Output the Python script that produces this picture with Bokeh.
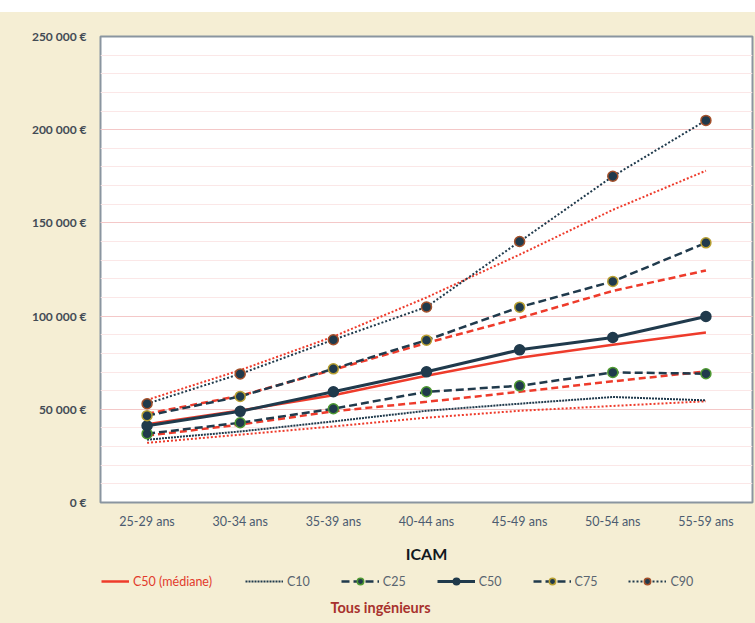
from bokeh.plotting import figure
from bokeh.models import FactorRange, Range1d, SingleIntervalTicker, Legend, LegendItem, Label, Spacer
from bokeh.layouts import column
from bokeh.embed import file_html
from bokeh.resources import INLINE

categories = ["25-29 ans", "30-34 ans", "35-39 ans", "40-44 ans", "45-49 ans", "50-54 ans", "55-59 ans"]

# ICAM percentiles
c10 = [33700, 38100, 43500, 49200, 53000, 56600, 54800]
c25 = [36900, 42800, 50300, 59400, 62600, 69800, 69100]
c50 = [41200, 48900, 59400, 70100, 81900, 88500, 99800]
c75 = [46600, 56900, 71700, 87100, 104800, 118600, 139300]
c90 = [53000, 69000, 87300, 104900, 140000, 175000, 205000]

# Tous ingénieurs (reference, red)
ref_c10 = [32000, 36400, 40800, 45500, 49200, 51800, 54300]
ref_c25 = [35900, 41800, 48900, 54000, 59400, 65000, 70300]
ref_c50 = [42000, 49300, 57500, 68000, 77600, 84600, 91200]
ref_c75 = [47600, 57300, 71200, 85600, 99000, 113500, 124500]
ref_c90 = [55000, 71000, 89000, 110000, 133000, 157000, 178000]

y_ticks = [0, 50000, 100000, 150000, 200000, 250000]
y_tick_labels = ["0 €", "50 000 €", "100 000 €", "150 000 €", "200 000 €", "250 000 €"]

BEIGE = "#f5eed4"
NAVY = "#203a4c"
RED = "#ee3b2b"
FONT = "Lato"

# style of each series: (name, values, width, dash, marker outline or None)
icam_series = [
    ("C10", c10, 2, "2 1", None),
    ("C25", c25, 2.5, "8 4", "#4f9a32"),
    ("C50", c50, 3, "solid", NAVY),
    ("C75", c75, 2.5, "8 4", "#b8a032"),
    ("C90", c90, 2, "2 2", "#a4502a"),
]
ref_series = [
    (ref_c10, 2, "2 2"),
    (ref_c25, 2.5, "7 4"),
    (ref_c50, 2.5, "solid"),
    (ref_c75, 2.5, "7 4"),
    (ref_c90, 2, "2 2"),
]

p = figure(width=755, height=553, x_range=FactorRange(*categories, range_padding=0),
           y_range=Range1d(0, 250000), output_backend="svg", toolbar_location=None,
           min_border_left=100, min_border_right=3, min_border_top=24, min_border_bottom=62)
p.border_fill_color = BEIGE
p.background_fill_color = "white"
p.outline_line_color = "#8a95a0"
p.outline_line_width = 2

p.yaxis.ticker = SingleIntervalTicker(interval=50000, num_minor_ticks=5)
p.yaxis.major_label_overrides = {t: l for t, l in zip(y_ticks, y_tick_labels)}
p.ygrid.grid_line_color = "#f4c8c8"
p.ygrid.minor_grid_line_color = "#fbe7e7"
p.xgrid.grid_line_color = None

for ax in (p.xaxis, p.yaxis):
    ax.axis_line_color = None
    ax.major_tick_line_color = None
    ax.minor_tick_line_color = None
    ax.major_tick_out = 0
    ax.major_tick_in = 0
    ax.major_label_text_font = FONT

p.yaxis.major_label_text_font_size = "12px"
p.yaxis.major_label_text_font_style = "bold"
p.yaxis.major_label_text_color = "#434b55"
p.yaxis.major_label_standoff = 10
p.xaxis.major_label_text_font_size = "12.5px"
p.xaxis.major_label_text_color = "#4b5b70"
p.xaxis.major_label_standoff = 11
p.xaxis.axis_label = "ICAM"
p.xaxis.axis_label_text_font = FONT
p.xaxis.axis_label_text_font_size = "16px"
p.xaxis.axis_label_text_font_style = "bold"
p.xaxis.axis_label_text_color = "#111820"
p.xaxis.axis_label_standoff = 12

for vals, w, dash in ref_series:
    p.line(categories, vals, line_color=RED, line_width=w, line_dash=dash)
for name, vals, w, dash, oc in icam_series:
    p.line(categories, vals, line_color=NAVY, line_width=w, line_dash=dash)
    if oc is not None:
        p.scatter(categories, vals, size=10, fill_color=NAVY, line_color=oc, line_width=1.5)

# bottom strip: legend + subtitle (data sits outside its y range, only legend glyphs show)
p2 = figure(width=755, height=58, x_range=FactorRange(*categories, range_padding=0),
            y_range=Range1d(0, 1), output_backend="svg", toolbar_location=None,
            x_axis_location=None, y_axis_location=None,
            min_border_left=0, min_border_right=0, min_border_top=0, min_border_bottom=0)
p2.border_fill_alpha = 0
p2.background_fill_alpha = 0
p2.outline_line_color = None
p2.grid.visible = False

rr = p2.line(categories, ref_c50, line_color=RED, line_width=2.5)
items = []
for name, vals, w, dash, oc in icam_series:
    rends = [p2.line(categories, vals, line_color=NAVY, line_width=w, line_dash=dash)]
    if oc is not None:
        rends.append(p2.scatter(categories, vals, size=10, fill_color=NAVY, line_color=oc, line_width=1.5))
    items.append(LegendItem(label=name, renderers=rends))

def mk_legend(its, loc, color, gw=38):
    return Legend(items=its, location=loc, orientation="horizontal", glyph_width=gw,
                  glyph_height=16, label_standoff=4, spacing=31, padding=0, margin=0,
                  background_fill_alpha=0, border_line_color=None, label_text_font=FONT,
                  label_text_font_size="12.5px", label_text_color=color, label_height=16)

# the strip's frame is aligned with the chart's frame (left edge at x=100)
p2.add_layout(mk_legend([LegendItem(label="C50 (médiane)", renderers=[rr])], (1, 34), "#e23a2c", gw=28))
p2.add_layout(mk_legend(items, (145, 34), "#5a6570"))
p2.add_layout(Label(x=280, y=16, x_units="screen", y_units="screen", text="Tous ingénieurs",
                    text_font=FONT, text_font_size="14.5px", text_font_style="bold",
                    text_color="#a8322d", text_align="center", text_baseline="middle"))

inner = column(p, p2, spacing=0, styles={"background-color": BEIGE})
layout = column(Spacer(width=755, height=12), inner, spacing=0)
open("out.html", "w").write(file_html(layout, INLINE))
